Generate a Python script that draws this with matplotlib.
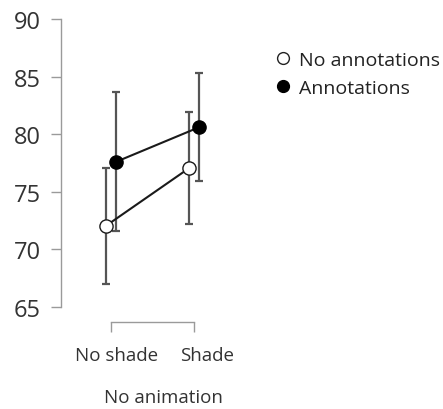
import numpy as np
import matplotlib
matplotlib.use('Agg')
import matplotlib.pyplot as plt
import matplotlib.transforms as mtransforms
from matplotlib.lines import Line2D

plt.rcParams['font.family'] = ['Open Sans', 'DejaVu Sans']

# data
conditions = ['No shade', 'Shade']
group_label = 'No animation'
series_names = ['No annotations', 'Annotations']
means_no_annot = [72.05, 77.05]
err_no_annot = [5.05, 4.85]
means_annot = [77.6, 80.6]
err_annot = [6.03, 4.7]
y_ticks = [65, 70, 75, 80, 85, 90]

fig = plt.figure(figsize=(4.43, 4.10), dpi=100)
ax = fig.add_axes([61 / 443, 1 - 323 / 410, (260 - 61) / 443, (323 - 15) / 410])

x = np.arange(len(conditions))
dodge = 0.06
grey = '#9a9a9a'
err_col = '#555555'

ax.errorbar(x - dodge, means_no_annot, yerr=err_no_annot, fmt='none',
            ecolor=err_col, elinewidth=1.6, capsize=3, capthick=1.6, zorder=1)
ax.errorbar(x + dodge, means_annot, yerr=err_annot, fmt='none',
            ecolor=err_col, elinewidth=1.6, capsize=3, capthick=1.6, zorder=1)
ax.plot(x - dodge, means_no_annot, color='#1a1a1a', lw=1.5, marker='o', ms=9.5,
        mfc='white', mec='#1a1a1a', mew=1.0, zorder=3)
ax.plot(x + dodge, means_annot, color='#1a1a1a', lw=1.5, marker='o', ms=9.5,
        mfc='black', mec='black', mew=1.0, zorder=3)

ax.set_xlim(-50 / 83, (260 - 111) / 83)
ax.set_ylim(90 - (323 - 20) / 11.52, 90 + 5 / 11.52)
ax.set_yticks(y_ticks)
ax.set_xticks(x)
ax.set_xticklabels([])
ax.set_yticklabels([str(t) for t in y_ticks], fontsize=17, color='#333333')
ax.set_xlabel(group_label, fontsize=13.5, color='#333333', va='center')
ax.xaxis.set_label_coords(0.5 + 2.5 / (260 - 61), -(398 - 323) / 308)

# category labels sit a little right of their ticks in the reference
for xi, lab, dx in zip(x, conditions, [6, 13]):
    tr = mtransforms.offset_copy(ax.get_xaxis_transform(), fig=fig, x=dx, y=-33, units='dots')
    ax.text(xi, 0, lab, transform=tr, ha='center', va='center',
            fontsize=13.5, color='#333333', clip_on=False)

for s in ['top', 'right']:
    ax.spines[s].set_visible(False)
ax.spines['left'].set_bounds(65, 90)
ax.spines['bottom'].set_bounds(0, 1)
for s in ['left', 'bottom']:
    ax.spines[s].set_color(grey)
    ax.spines[s].set_linewidth(1.0)
ax.tick_params(axis='both', color=grey, length=7.5, width=1.0)
ax.tick_params(axis='y', pad=7)

handles = [
    Line2D([], [], ls='none', marker='o', ms=8.5, mfc='white', mec='#222222', mew=1.0),
    Line2D([], [], ls='none', marker='o', ms=8.5, mfc='black', mec='black', mew=1.0),
]
fig.legend(handles, series_names, loc='upper left', bbox_to_anchor=(273 / 443, 1 - 52 / 410),
           frameon=False, fontsize=14, handlelength=1.0, handletextpad=0.35,
           labelspacing=0.5, borderpad=0, borderaxespad=0, labelcolor='#222222')

fig.savefig('out.png', dpi=100)
